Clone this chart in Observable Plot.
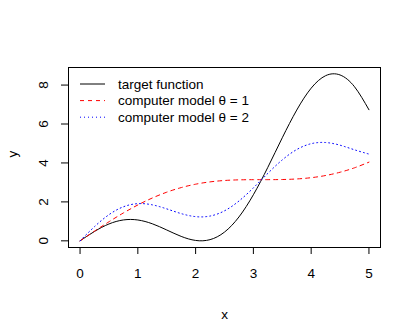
<!DOCTYPE html>
<html><head><meta charset="utf-8">
<script src="https://cdn.jsdelivr.net/npm/d3@7"></script>
<script src="https://cdn.jsdelivr.net/npm/@observablehq/plot@0.6"></script>
<style>
body{margin:0;background:#fff;}
#chart{position:relative;width:415px;height:332px;font-family:"Liberation Sans",Arial,Helvetica,sans-serif;}
#legend{position:absolute;left:0;top:0;pointer-events:none;}
</style></head><body><div id="chart"></div>
<script>
const xs = [0, 0.25, 0.5, 0.75, 1, 1.25, 1.5, 1.75, 2, 2.25, 2.5, 2.75, 3, 3.25, 3.5, 3.75, 4, 4.25, 4.5, 4.75, 5];
const target = [0, 0.483, 0.866, 1.073, 1.071, 0.876, 0.558, 0.228, 0.020, 0.061, 0.449, 1.226, 2.368, 3.776, 5.293, 6.716, 7.841, 8.482, 8.519, 7.914, 6.733];
const model1 = [0, 0.497, 0.979, 1.432, 1.842, 2.199, 2.498, 2.734, 2.909, 3.028, 3.099, 3.132, 3.141, 3.142, 3.149, 3.178, 3.243, 3.355, 3.523, 3.751, 4.041];
const model2 = [0, 0.729, 1.342, 1.748, 1.909, 1.849, 1.641, 1.399, 1.243, 1.273, 1.541, 2.045, 2.721, 3.465, 4.157, 4.688, 4.989, 5.049, 4.912, 4.675, 4.456];
const xTicks = [0, 1, 2, 3, 4, 5];
const yTicks = [0, 2, 4, 6, 8];
const seriesNames = ["target function", "computer model \u03b8 = 1", "computer model \u03b8 = 2"];
const seriesColors = ["black", "#ff0000", "#0000ff"];
const seriesDash = [null, "4,4", "1,3"];

const seriesValues = [target, model1, model2];
const rows = seriesValues.map((vals, s) => xs.map((x, i) => ({x, y: vals[i], s})));

function pad(ext) { const r = ext[1] - ext[0]; return [ext[0] - 0.04 * r, ext[1] + 0.04 * r]; }
const xDom = pad(d3.extent(xs));
const yDom = pad([0, 8.56]);

const font = 13.5;
const plot = Plot.plot({
  width: 415, height: 332,
  marginLeft: 68, marginRight: 35, marginTop: 67, marginBottom: 85,
  style: {fontFamily: '"Liberation Sans", Arial, Helvetica, sans-serif', fontSize: font + "px", color: "black", background: "white", overflow: "visible"},
  x: {domain: xDom},
  y: {domain: yDom},
  marks: [
    ...rows.map((r, s) => Plot.line(r, {x: "x", y: "y", stroke: seriesColors[s], strokeWidth: 1, strokeDasharray: seriesDash[s], curve: "natural"})),
    Plot.frame({stroke: "black", strokeWidth: 1}),
    Plot.axisX(xTicks, {tickSize: 7, tickPadding: 14, label: null, tickFormat: d => String(d), fontSize: font}),
    Plot.axisY(yTicks, {tickSize: 7, tickRotate: -90, tickPadding: 14, label: null, tickFormat: d => String(d), fontSize: font}),
    Plot.text(["x"], {frameAnchor: "bottom", dy: 71, fontSize: font, fill: "black"}),
    Plot.text(["y"], {frameAnchor: "left", dx: -56, rotate: -90, fontSize: font, fill: "black"})
  ]
});
const chart = document.getElementById("chart");
chart.appendChild(plot);

// legend (top-left, no box)
const leg = d3.select(chart).append("svg").attr("id", "legend").attr("width", 415).attr("height", 332);
seriesNames.forEach((name, i) => {
  const cy = 84 + i * 16.6;
  leg.append("line").attr("x1", 80).attr("x2", 105).attr("y1", cy).attr("y2", cy)
    .attr("stroke", seriesColors[i]).attr("stroke-width", 1)
    .attr("stroke-dasharray", seriesDash[i]);
  leg.append("text").attr("x", 118).attr("y", cy).attr("dy", "0.35em")
    .attr("font-size", font).attr("font-family", '"Liberation Sans", Arial, sans-serif')
    .attr("fill", "black").text(name);
});
</script></body></html>
